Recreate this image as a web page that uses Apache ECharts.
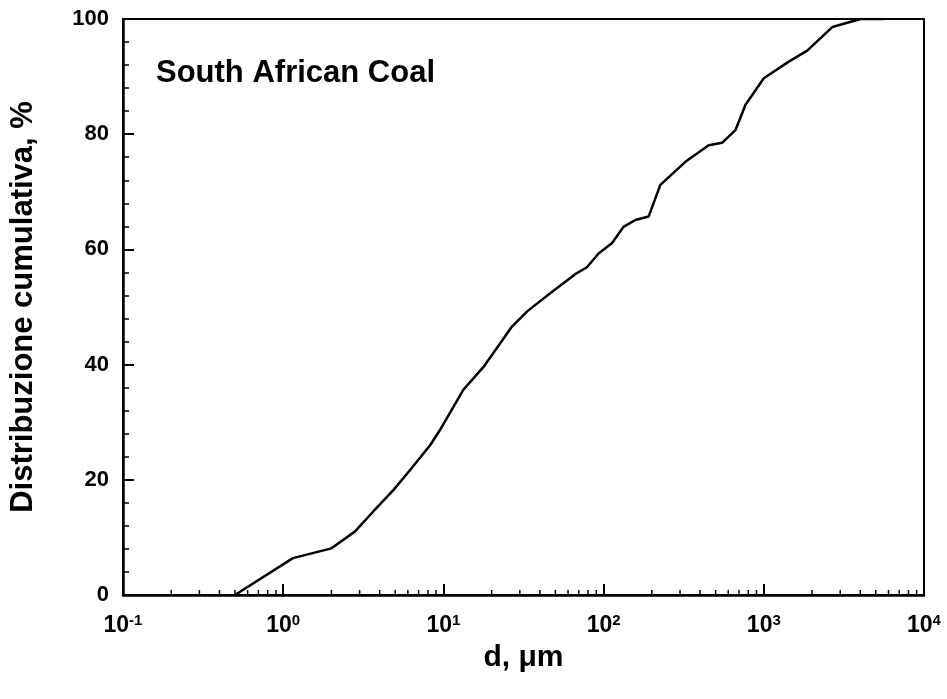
<!DOCTYPE html>
<html>
<head>
<meta charset="utf-8">
<script src="https://cdn.jsdelivr.net/npm/echarts@6/dist/echarts.min.js"></script>
<style>
  html, body { margin: 0; padding: 0; background: #fff; }
  #chart { width: 947px; height: 699px; }
</style>
</head>
<body>
<div id="chart"></div>
<script>
// Particle size (µm) and cumulative distribution (%)
const diameters = [0.5, 1.15, 2.0, 2.8, 3.65, 4.87, 6.2, 8.26, 9.5, 13.3, 17.8, 26.8, 33.2, 46.4,
  66.5, 78.7, 93, 113, 133, 158, 191, 226, 324, 453, 549, 665, 769, 1000, 1432, 1866, 2676, 4020, 5623];
const cumulative = [0, 6.4, 8.1, 11.0, 14.5, 18.2, 21.7, 26.0, 28.6, 35.6, 39.6, 46.6, 49.2, 52.4,
  55.7, 56.9, 59.3, 61.1, 63.9, 65.1, 65.7, 71.2, 75.2, 78.1, 78.5, 80.7, 85.1, 89.7, 92.6, 94.5, 98.6, 100, 100];

// Axis ranges and tick labels
const xDecades = [-1, 0, 1, 2, 3, 4];
const yTicks = [0, 20, 40, 60, 80, 100];

// Minor tick positions on the log axis: 2..9 × 10^k
const xMinorTicks = [];
for (let k = xDecades[0]; k < xDecades[xDecades.length - 1]; k++) {
  for (let m = 2; m <= 9; m++) xMinorTicks.push(m * Math.pow(10, k));
}

const FONT = '"Liberation Sans", Arial, Helvetica, sans-serif';

const chart = echarts.init(document.getElementById('chart'), null, { renderer: 'canvas' });
chart.setOption({
  backgroundColor: '#ffffff',
  animation: false,
  title: {
    text: 'South African Coal',
    left: 151,
    top: 53,
    textStyle: { fontFamily: FONT, fontSize: 31, fontWeight: 'bold', color: '#000' }
  },
  grid: {
    left: 123, right: 23, top: 19, bottom: 104,
    show: true, borderColor: '#000', borderWidth: 2, backgroundColor: 'transparent'
  },
  xAxis: {
    type: 'log',
    logBase: 10,
    min: Math.pow(10, xDecades[0]),
    max: Math.pow(10, xDecades[xDecades.length - 1]),
    name: 'd, μm',
    nameLocation: 'middle',
    nameGap: 46,
    nameTextStyle: { fontFamily: FONT, fontSize: 30, fontWeight: 'bold', color: '#000' },
    axisLine: { show: true, lineStyle: { color: '#000', width: 2.5 } },
    axisTick: { show: true, inside: true, length: 11, lineStyle: { color: '#000', width: 2 } },
    splitLine: { show: false },
    axisLabel: {
      margin: 18,
      formatter: function (v) {
        const e = Math.round(Math.log10(v));
        return '{b|10}{s|' + e + '}';
      },
      rich: {
        b: { fontFamily: FONT, fontSize: 23, fontWeight: 'bold', color: '#000' },
        s: { fontFamily: FONT, fontSize: 15, fontWeight: 'bold', color: '#000', verticalAlign: 'top', padding: [0, 0, 11, 0] }
      }
    }
  },
  yAxis: {
    type: 'value',
    min: yTicks[0],
    max: yTicks[yTicks.length - 1],
    interval: 20,
    name: 'Distribuzione cumulativa, %',
    nameLocation: 'middle',
    nameGap: 84,
    nameTextStyle: { fontFamily: FONT, fontSize: 31, fontWeight: 'bold', color: '#000' },
    axisLine: { show: true, lineStyle: { color: '#000', width: 2.5 } },
    axisTick: { show: true, inside: true, length: 11, lineStyle: { color: '#000', width: 2 } },
    minorTick: { show: true, splitNumber: 5, length: 6, lineStyle: { color: '#000', width: 1.5 } },
    splitLine: { show: false },
    axisLabel: {
      margin: 14,
      fontFamily: FONT, fontSize: 22, fontWeight: 'bold', color: '#000'
    }
  },
  series: [
    {
      type: 'line',
      data: diameters.map((d, i) => [d, cumulative[i]]),
      showSymbol: false,
      lineStyle: { color: '#000', width: 2.5 },
      z: 5
    },
    {
      // minor ticks of the logarithmic x axis, pointing into the plot
      type: 'custom',
      data: xMinorTicks.map(v => [v, 0]),
      silent: true,
      clip: false,
      renderItem: function (params, api) {
        const p = api.coord([api.value(0), 0]);
        return {
          type: 'line',
          shape: { x1: p[0], y1: p[1], x2: p[0], y2: p[1] - 5 },
          style: { stroke: '#000', lineWidth: 1.5 }
        };
      },
      z: 4
    }
  ]
});
</script>
</body>
</html>
